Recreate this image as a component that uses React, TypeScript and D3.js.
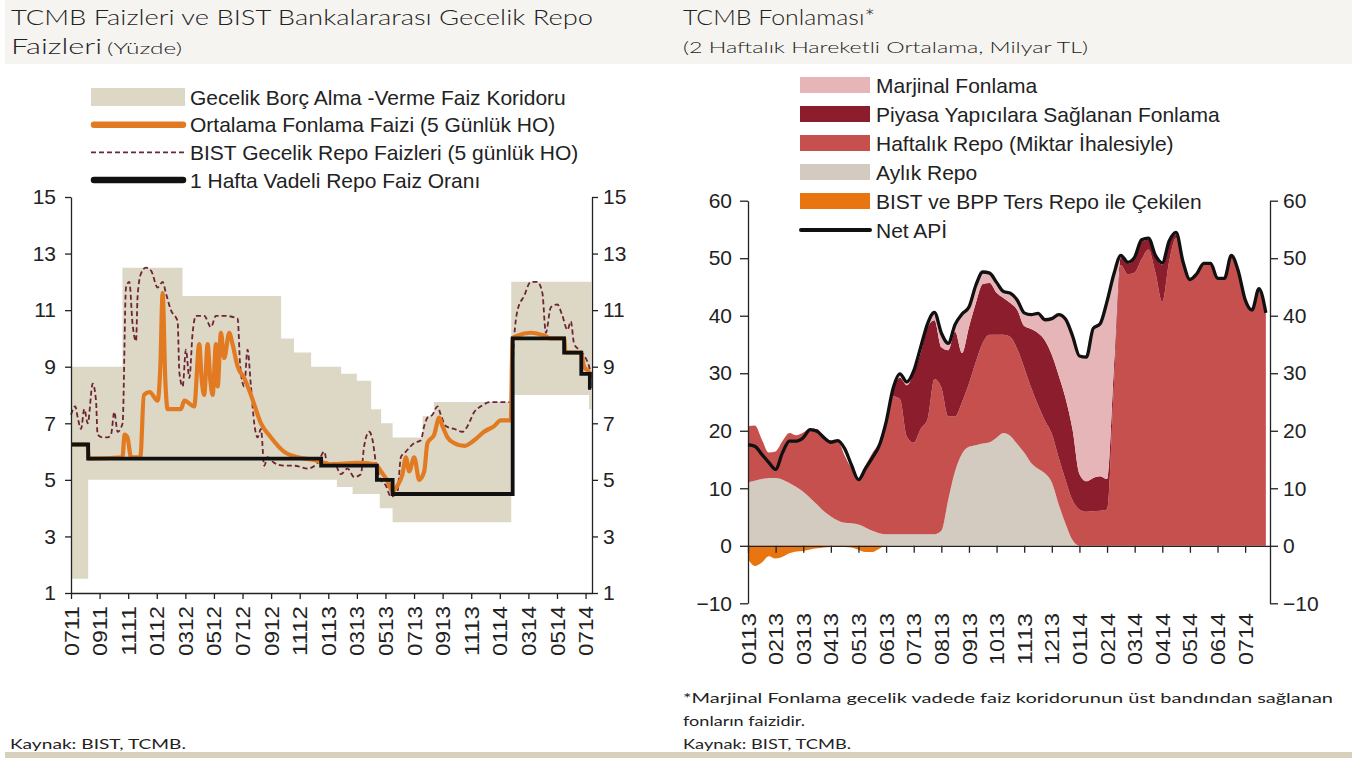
import React, { useEffect, useRef } from 'react';
import * as d3 from 'd3';

// ---------- left panel: policy rates (x = months since Jul 2011) ----------
const leftTickLabels = ['0711', '0911', '1111', '0112', '0312', '0512', '0712', '0912', '1112', '0113',
    '0313', '0513', '0713', '0913', '1113', '0114', '0314', '0514', '0714'];
const leftYTicks = [1, 3, 5, 7, 9, 11, 13, 15];

// overnight borrowing / lending corridor (step series)
const corridorMonths = [0, 1.2, 3.6, 7.8, 14.7, 15.6, 16.8, 18.6, 18.9, 19.7, 20.0, 21.0, 21.6, 21.7, 22.5, 24.6, 25.4, 30.8, 36.25, 36.4];
const corridorLow = [1.5, 5, 5, 5, 5, 5, 5, 4.75, 4.75, 4.5, 4.5, 4.5, 4, 4, 3.5, 3.5, 3.5, 8, 7.5, 7.5];
const corridorHigh = [9, 9, 12.5, 11.5, 10, 9.5, 9, 9, 8.75, 8.75, 8.5, 7.5, 7.5, 7, 6.5, 7.25, 7.75, 12, 12, 12];

// 1 week repo rate (step series)
const policyMonths = [0, 1.2, 17.5, 21.4, 22.5, 30.9, 34.5, 35.7, 36.3, 36.4];
const policyRate = [6.25, 5.75, 5.5, 5.0, 4.5, 10, 9.5, 8.75, 8.25, 8.25];

// average funding rate (5 day MA)
const fundingMonths = [0, 1.15, 1.25, 3.6, 3.75, 3.95, 4.2, 4.85, 5.1, 5.5, 6.06, 6.25, 6.41, 6.6, 6.76, 7.2, 7.69, 7.93,
    8.62, 8.97, 9.15, 9.32, 9.56, 9.75, 9.91, 10.14, 10.26, 10.49, 10.72, 11.07, 11.3, 11.66, 12.12, 12.59, 13.29,
    13.99, 14.9, 15.85, 17.0, 17.7, 18.18, 20.0, 21.3, 21.68, 22.1, 22.49, 22.84, 23.19, 23.43, 23.66, 24.01, 24.36,
    24.71, 24.94, 25.41, 25.76, 25.99, 26.34, 26.81, 27.51, 28.21, 28.9, 29.6, 30.07, 30.77, 30.89, 31.24, 32.17,
    33.1, 33.57, 34.5, 34.6, 35.66, 35.9, 36.25, 36.4];
const fundingRate = [6.25, 6.25, 5.75, 5.8, 6.6, 6.5, 5.8, 5.8, 8.0, 8.1, 7.8, 9.0, 11.6, 8.5, 7.5, 7.5, 7.5, 7.8,
    7.6, 9.8, 8.5, 8.0, 9.8, 8.5, 8.0, 9.8, 8.3, 10.2, 9.3, 10.2, 9.8, 9.0, 8.6, 8.0, 7.0,
    6.5, 6.0, 5.8, 5.7, 5.6, 5.55, 5.6, 5.55, 5.3, 5.0, 4.6, 4.8, 5.2, 5.8, 5.3, 5.8, 5.0,
    5.3, 6.3, 6.6, 7.2, 6.9, 6.5, 6.3, 6.2, 6.4, 6.7, 6.9, 7.1, 7.1, 10.0, 10.1, 10.2,
    10.1, 10.0, 10.0, 9.5, 9.5, 9.0, 8.8, 8.6];

// BIST overnight repo rate (5 day MA)
const bistMonths = [0, 0.3, 0.47, 0.7, 0.93, 1.17, 1.52, 1.75, 1.86, 2.2, 2.56, 2.8, 3.03, 3.26, 3.61, 3.85, 4.08,
    4.31, 4.55, 4.66, 4.9, 5.24, 5.6, 6.06, 6.41, 6.64, 6.99, 7.46, 7.58, 7.81, 8.04, 8.28, 8.51, 8.74, 9.32, 9.79,
    10.14, 10.72, 11.66, 11.84, 12.12, 12.35, 12.59, 12.82, 13.05, 13.29, 13.52, 13.75, 14.22, 14.9, 15.62, 16.55,
    17.25, 17.72, 17.95, 18.41, 18.88, 19.35, 19.81, 20.28, 20.51, 20.86, 21.1, 21.33, 21.68, 22.03, 22.38, 22.84,
    23.08, 23.43, 24.01, 24.48, 24.71, 24.94, 25.29, 25.64, 25.87, 26.22, 26.81, 27.39, 27.74, 28.21, 28.67, 29.37,
    30.77, 31.0, 31.24, 31.7, 32.17, 32.63, 32.98, 33.22, 33.57, 34.03, 34.38, 34.73, 34.97, 35.2, 35.55, 35.9,
    36.25, 36.4];
const bistRate = [7.3, 7.6, 7.2, 6.8, 7.5, 7.0, 8.4, 7.8, 6.6, 6.5, 6.5, 6.6, 7.4, 6.7, 7.0, 11.8, 12.0,
    10.5, 9.9, 11.5, 12.3, 12.5, 12.4, 11.8, 12.0, 11.6, 11.0, 10.6, 8.8, 8.3, 9.6, 8.6, 10.2, 10.8, 10.8, 10.4,
    10.8, 10.8, 10.7, 9.0, 8.3, 9.6, 8.3, 7.0, 6.5, 6.8, 5.5, 5.8, 5.6, 5.5, 5.5, 5.4,
    5.6, 6.0, 5.5, 5.6, 5.2, 5.4, 5.1, 5.2, 6.2, 6.7, 6.4, 5.6, 5.0, 4.8, 4.4, 4.6,
    5.8, 6.0, 6.3, 6.4, 6.9, 7.2, 7.3, 7.6, 7.3, 6.9, 6.8, 6.7, 6.9, 7.4, 7.6, 7.75,
    7.75, 10.0, 11.0, 11.5, 12.0, 12.0, 11.6, 10.2, 11.1, 11.2, 10.8, 10.3, 10.6, 9.8, 9.6, 9.4,
    9.0, 8.7];

// ---------- right panel: CBRT funding (x = months since Jan 2013, weekly-ish) ----------
const rightTickLabels = ['0113', '0213', '0313', '0413', '0513', '0613', '0713', '0813', '0913', '1013',
    '1113', '1213', '0114', '0214', '0314', '0414', '0514', '0614', '0714'];
const rightYTicks = [-10, 0, 10, 20, 30, 40, 50, 60];
const fundMonths = d3.range(76).map(i => i * 0.25);

const aylikRepo = [11.0, 11.3, 11.6, 11.8, 11.8, 11.5, 10.9, 10.2, 9.4, 8.3,
    7.2, 6.0, 5.1, 4.4, 4.0, 3.9, 3.7, 3.2, 2.6, 2.2,
    2.0, 2.0, 2.0, 2.0, 2.0, 2.0, 2.0, 2.0, 2.6, 8.0,
    13.0, 16.0, 17.2, 17.5, 17.8, 18.0, 18.8, 19.6, 19.1, 17.7,
    16.2, 14.4, 13.4, 12.6, 11.0, 7.2, 3.8, 1.0, 0, 0,
    0, 0, 0, 0, 0, 0, 0, 0, 0, 0,
    0, 0, 0, 0, 0, 0, 0, 0, 0, 0,
    0, 0, 0, 0, 0, 0];
const haftalikRepo = [9.8, 9.6, 6.9, 4.4, 4.6, 6.7, 8.7, 9.0, 10.3, 12.1,
    13.1, 13.0, 13.2, 13.8, 11.7, 9.5, 8.0, 10.8, 13.5, 15.8,
    20.0, 24.0, 23.5, 17.0, 15.9, 18.3, 20.0, 27.0, 24.9, 14.5,
    9.5, 9.0, 11.0, 14.5, 17.5, 18.7, 17.9, 17.1, 17.2, 16.5,
    14.8, 13.1, 11.1, 9.2, 8.5, 8.1, 7.6, 6.9, 6.3, 5.9,
    6.0, 6.1, 6.3, 28.0, 48.8, 47.2, 47.5, 49.8, 51.5, 47.5,
    42.4, 49.5, 53.5, 49.2, 46.1, 47.1, 48.9, 48.9, 46.3, 46.3,
    50.3, 47.6, 42.6, 40.8, 44.5, 40.3];
const piyasaYapici = [0, 0, 0, 0, 0, 0, 0, 0, 0, 0,
    0, 0, 0, 0, 0, 0, 0, 0, 0, 0,
    0, 1.3, 3.7, 8.9, 12.1, 13.2, 16.0, 10.2, 7.0, 11.5,
    14.7, 8.5, 9.8, 10.2, 10.2, 9.0, 7.3, 6.4, 5.9, 6.8,
    7.2, 10.2, 12.5, 13.9, 13.7, 14.3, 14.2, 12.3, 6.2, 5.3,
    5.8, 6.0, 5.3, 3.0, 1.4, 1.8, 2.4, 3.1, 1.7, 2.7,
    6.5, 3.2, 0.7, 0, 0, 0, 0, 0, 0, 0,
    0, 0, 0, 0, 0, 0];
const marjinal = [0, 0, 0, 0, 0, 0, 0, 0, 0, 0,
    0, 0, 0, 0, 0, 0, 0, 0, 0, 0,
    0, 0, 0.7, 0.6, 0.4, 1.0, 0.6, 1.4, 2.5, 1.2,
    1.3, 6.8, 3.5, 3.1, 2.1, 1.7, 1.8, 1.1, 1.7, 1.7,
    2.3, 2.5, 3.4, 3.6, 6.3, 10.6, 13.8, 16.3, 20.5, 21.6,
    26.0, 26.5, 30.9, 16.3, 0.3, 0.3, 0.3, 0.3, 0.3, 0.3,
    0.3, 0.3, 0.3, 0, 0, 0, 0, 0, 0, 0,
    0, 0, 0, 0, 0, 0];
const tersRepo = [-2.3, -3.5, -2.9, -1.8, -2.2, -1.9, -1.3, -1.0, -0.9, -0.65,
    -0.45, -0.3, -0.2, -0.2, -0.2, -0.3, -0.7, -1.1, -1.1, -0.5,
    0, 0, 0, 0, 0, 0, 0, 0, 0, 0,
    0, 0, 0, 0, 0, 0, 0, 0, 0, 0,
    0, 0, 0, 0, 0, 0, 0, 0, 0, 0,
    0, 0, 0, 0, 0, 0, 0, 0, 0, 0,
    0, 0, 0, 0, 0, 0, 0, 0, 0, 0,
    0, 0, 0, 0, 0, 0];
const netApi = [17.6, 17.3, 15.9, 14.5, 13.3, 16.2, 18.2, 18.2, 18.8, 20.2,
    19.9, 18.8, 18.0, 18.3, 16.9, 14.0, 11.5, 13.4, 15.3, 17.4,
    21.5, 27.3, 29.9, 28.5, 30.4, 34.5, 38.6, 40.6, 37.0, 35.2,
    38.5, 40.3, 41.5, 45.3, 47.6, 47.4, 45.8, 44.2, 43.9, 42.7,
    40.5, 40.2, 40.4, 39.3, 39.5, 40.2, 39.4, 36.5, 33.0, 32.8,
    37.8, 38.6, 42.5, 47.3, 50.5, 49.3, 50.2, 53.2, 53.5, 50.5,
    49.2, 53.0, 54.5, 49.4, 46.3, 47.3, 49.1, 49.1, 46.5, 46.5,
    50.5, 47.8, 42.8, 41.0, 44.7, 40.5];

const FONT = '"Liberation Sans", Arial, sans-serif';
const TITLE_FONT = 'Lato, "DejaVu Sans", sans-serif';

const App = () => {
    const svgRef = useRef<SVGSVGElement>(null);

    useEffect(() => {
        const svg = d3.select(svgRef.current);
        svg.selectAll('*').remove();

        // header band + bottom rule
        svg.append('rect').attr('x', 5).attr('y', 0).attr('width', 1347).attr('height', 64).attr('fill', '#f5f4f1');
        svg.append('rect').attr('x', 5).attr('y', 752).attr('width', 1347).attr('height', 6).attr('fill', '#d6d0bd');

        const title = (x, y, txt, size, len, weight = 300) => {
            svg.append('text').attr('x', x).attr('y', y)
                .attr('font-family', TITLE_FONT).attr('font-size', size).attr('font-weight', weight)
                .attr('fill', '#222')
                .attr('textLength', len).attr('lengthAdjust', 'spacingAndGlyphs')
                .text(txt);
        };
        title(11, 25, 'TCMB Faizleri ve BIST Bankalararası Gecelik Repo', 21, 582);
        title(11, 54, 'Faizleri', 21, 91);
        title(107, 54, '(Yüzde)', 16, 75);
        title(683, 25, 'TCMB Fonlaması*', 21, 192);
        title(683, 53, '(2 Haftalık Hareketli Ortalama, Milyar TL)', 16, 405);
        title(10, 749, 'Kaynak: BIST, TCMB.', 14, 176, 400);
        title(683, 703, '*Marjinal Fonlama gecelik vadede faiz koridorunun üst bandından sağlanan', 14, 650, 400);
        title(683, 726, 'fonların faizidir.', 14, 122, 400);
        title(683, 749, 'Kaynak: BIST, TCMB.', 14, 168, 400);

        // ================= left panel =================
        const xL = d3.scaleLinear().domain([0, 36.45]).range([71, 592]);
        const yL = d3.scaleLinear().domain([1, 15]).range([593, 197]);
        const gl = svg.append('g');

        const corridor = corridorMonths.map((m, i) => ({ m, lo: corridorLow[i], hi: corridorHigh[i] }));
        gl.append('path')
            .datum(corridor)
            .attr('fill', '#ddd8c5')
            .attr('d', d3.area<any>().curve(d3.curveStepAfter)
                .x(d => xL(d.m)).y0(d => yL(d.lo)).y1(d => yL(d.hi)));

        const bist = bistMonths.map((m, i) => ({ m, v: bistRate[i] }));
        gl.append('path')
            .datum(bist)
            .attr('fill', 'none')
            .attr('stroke', '#6e2435')
            .attr('stroke-width', 1.8)
            .attr('stroke-dasharray', '5 3')
            .attr('d', d3.line<any>().curve(d3.curveMonotoneX).x(d => xL(d.m)).y(d => yL(d.v)));

        const funding = fundingMonths.map((m, i) => ({ m, v: fundingRate[i] }));
        gl.append('path')
            .datum(funding)
            .attr('fill', 'none')
            .attr('stroke', '#e27a22')
            .attr('stroke-width', 4.2)
            .attr('stroke-linejoin', 'round')
            .attr('d', d3.line<any>().curve(d3.curveMonotoneX).x(d => xL(d.m)).y(d => yL(d.v)));

        const policy = policyMonths.map((m, i) => ({ m, v: policyRate[i] }));
        gl.append('path')
            .datum(policy)
            .attr('fill', 'none')
            .attr('stroke', '#111')
            .attr('stroke-width', 3.8)
            .attr('d', d3.line<any>().curve(d3.curveStepAfter).x(d => xL(d.m)).y(d => yL(d.v)));

        const styleAxis = (sel) => {
            sel.selectAll('path, line').attr('stroke', '#222').attr('stroke-width', 1.3);
            sel.selectAll('text').attr('font-family', FONT).attr('font-size', 21).attr('fill', '#222');
        };

        gl.append('g').attr('transform', 'translate(71,0)')
            .call(d3.axisLeft(yL).tickValues(leftYTicks).tickSize(6).tickSizeOuter(0).tickPadding(9))
            .call(styleAxis);
        gl.append('g').attr('transform', 'translate(592,0)')
            .call(d3.axisRight(yL).tickValues(leftYTicks).tickSize(6).tickSizeOuter(0).tickPadding(5))
            .call(styleAxis);
        gl.append('g').attr('transform', 'translate(0,593)')
            .call(d3.axisBottom(xL).tickValues(leftTickLabels.map((_, i) => i * 2)).tickSize(6).tickSizeOuter(0).tickFormat(() => ''))
            .call(styleAxis);
        gl.selectAll('.xl-label')
            .data(leftTickLabels)
            .enter().append('text')
            .attr('class', 'xl-label')
            .attr('transform', (d, i) => `translate(${xL(i * 2)},606) rotate(-90)`)
            .attr('text-anchor', 'end')
            .attr('dy', '0.36em')
            .attr('textLength', 50).attr('lengthAdjust', 'spacingAndGlyphs')
            .attr('font-family', FONT).attr('font-size', 21).attr('fill', '#222')
            .text(d => d);

        // left legend
        const legL = gl.append('g');
        const legLRows = [
            { label: 'Gecelik Borç Alma -Verme Faiz Koridoru', type: 'rect', color: '#ddd8c5' },
            { label: 'Ortalama Fonlama Faizi (5 Günlük HO)', type: 'thick', color: '#e27a22' },
            { label: 'BIST Gecelik Repo Faizleri (5 günlük HO)', type: 'dash', color: '#6e2435' },
            { label: '1 Hafta Vadeli Repo Faiz Oranı', type: 'thick', color: '#111' },
        ];
        const lg = legL.selectAll('g').data(legLRows).enter().append('g')
            .attr('transform', (d, i) => `translate(0,${97 + i * 27.7})`);
        lg.filter(d => d.type === 'rect').append('rect')
            .attr('x', 91).attr('y', -9).attr('width', 94).attr('height', 18).attr('fill', d => d.color);
        lg.filter(d => d.type === 'thick').append('line')
            .attr('x1', 94).attr('x2', 183).attr('stroke', d => d.color).attr('stroke-width', 6.5).attr('stroke-linecap', 'round');
        lg.filter(d => d.type === 'dash').append('line')
            .attr('x1', 91).attr('x2', 185).attr('stroke', d => d.color).attr('stroke-width', 1.8).attr('stroke-dasharray', '5 3');
        lg.append('text')
            .attr('x', 190).attr('dy', '0.36em')
            .attr('font-family', FONT).attr('font-size', 21).attr('fill', '#222')
            .text(d => d.label);

        // ================= right panel =================
        const xR = d3.scaleLinear().domain([0, 18.9]).range([748, 1270]);
        const yR = d3.scaleLinear().domain([-10, 60]).range([603.3, 200.7]);
        const gr = svg.append('g');

        const keys = ['aylik', 'haftalik', 'piyasa', 'marjinal'];
        const colors = { aylik: '#d3cac0', haftalik: '#c6504e', piyasa: '#8c1d2d', marjinal: '#e6b5b7' };
        const table = fundMonths.map((m, i) => ({
            m, aylik: aylikRepo[i], haftalik: haftalikRepo[i], piyasa: piyasaYapici[i], marjinal: marjinal[i],
        }));
        const stacked = d3.stack<any>().keys(keys)(table);
        const areaR = d3.area<any>().curve(d3.curveMonotoneX)
            .x(d => xR(d.data.m)).y0(d => yR(d[0])).y1(d => yR(d[1]));
        gr.selectAll('.layer')
            .data(stacked)
            .enter().append('path')
            .attr('class', 'layer')
            .attr('fill', d => colors[d.key])
            .attr('d', areaR);

        const ters = fundMonths.map((m, i) => ({ m, v: tersRepo[i] }));
        gr.append('path')
            .datum(ters)
            .attr('fill', '#e8750f')
            .attr('d', d3.area<any>().curve(d3.curveMonotoneX).x(d => xR(d.m)).y0(yR(0)).y1(d => yR(d.v)));

        gr.append('g').attr('transform', 'translate(748,0)')
            .call(d3.axisLeft(yR).tickValues(rightYTicks).tickSize(8).tickSizeOuter(0).tickPadding(8))
            .call(styleAxis);
        gr.append('g').attr('transform', 'translate(1270,0)')
            .call(d3.axisRight(yR).tickValues(rightYTicks).tickSize(8).tickSizeOuter(0).tickPadding(5))
            .call(styleAxis);
        gr.append('g').attr('transform', `translate(0,${yR(0)})`)
            .call(d3.axisBottom(xR).tickValues(d3.range(rightTickLabels.length)).tickSize(7).tickSizeOuter(0).tickFormat(() => ''))
            .call(styleAxis);
        gr.selectAll('.xr-label')
            .data(rightTickLabels)
            .enter().append('text')
            .attr('class', 'xr-label')
            .attr('transform', (d, i) => `translate(${xR(i)},613) rotate(-90)`)
            .attr('text-anchor', 'end')
            .attr('dy', '0.36em')
            .attr('textLength', 52).attr('lengthAdjust', 'spacingAndGlyphs')
            .attr('font-family', FONT).attr('font-size', 21).attr('fill', '#222')
            .text(d => d);

        const net = fundMonths.map((m, i) => ({ m, v: netApi[i] }));
        gr.append('path')
            .datum(net)
            .attr('fill', 'none')
            .attr('stroke', '#111')
            .attr('stroke-width', 3.3)
            .attr('stroke-linejoin', 'round')
            .attr('d', d3.line<any>().curve(d3.curveMonotoneX).x(d => xR(d.m)).y(d => yR(d.v)));

        // right legend
        const legRRows = [
            { label: 'Marjinal Fonlama', color: colors.marjinal, type: 'rect' },
            { label: 'Piyasa Yapıcılara Sağlanan Fonlama', color: colors.piyasa, type: 'rect' },
            { label: 'Haftalık Repo (Miktar İhalesiyle)', color: colors.haftalik, type: 'rect' },
            { label: 'Aylık Repo', color: colors.aylik, type: 'rect' },
            { label: 'BIST ve BPP Ters Repo ile Çekilen', color: '#e8750f', type: 'rect' },
            { label: 'Net APİ', color: '#111', type: 'line' },
        ];
        const rg = gr.append('g').selectAll('g').data(legRRows).enter().append('g')
            .attr('transform', (d, i) => `translate(0,${85 + i * 29})`);
        rg.filter(d => d.type === 'rect').append('rect')
            .attr('x', 800).attr('y', -8).attr('width', 70).attr('height', 16).attr('fill', d => d.color);
        rg.filter(d => d.type === 'line').append('line')
            .attr('x1', 801).attr('x2', 870).attr('stroke', d => d.color).attr('stroke-width', 4).attr('stroke-linecap', 'round');
        rg.append('text')
            .attr('x', 876).attr('dy', '0.36em')
            .attr('font-family', FONT).attr('font-size', 21).attr('fill', '#222')
            .text(d => d.label);
    }, []);

    return (
        <svg ref={svgRef} width={1366} height={760}
            style={{ position: 'absolute', left: 0, top: 0, background: '#fff' }} />
    );
};

export default App;
